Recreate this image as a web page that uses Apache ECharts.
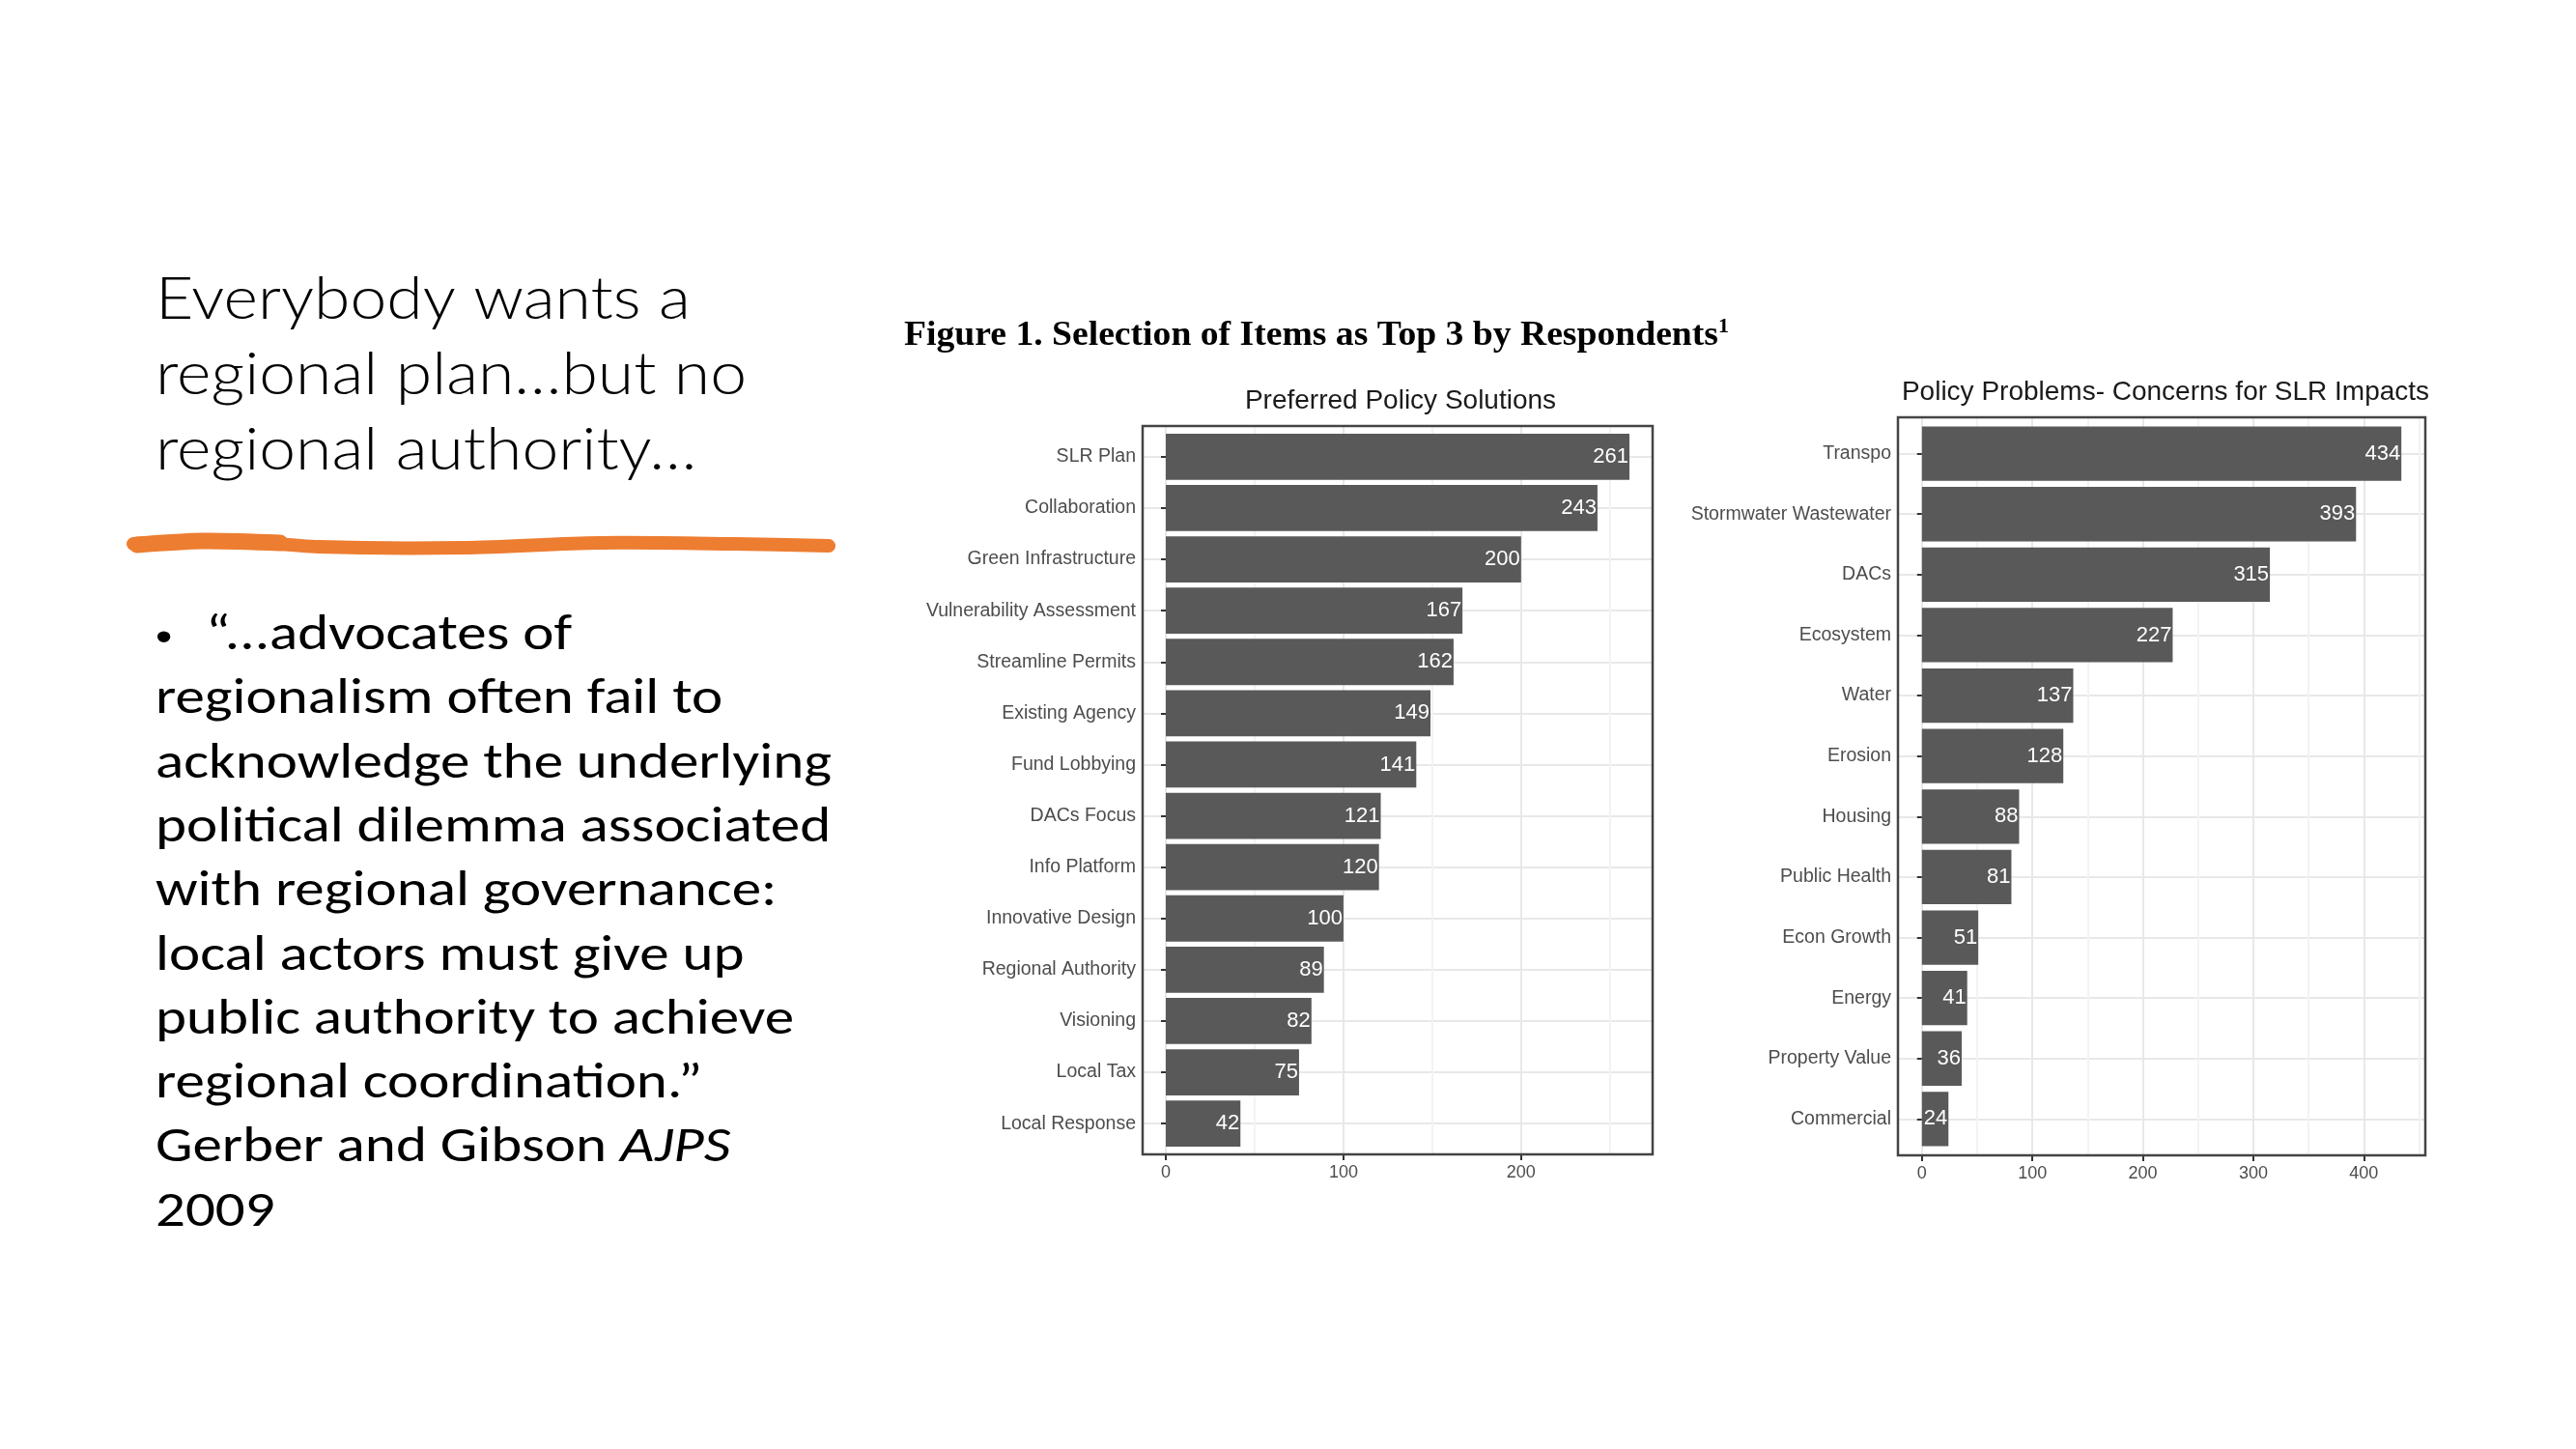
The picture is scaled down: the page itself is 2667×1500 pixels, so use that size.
<!DOCTYPE html>
<html>
<head>
<meta charset="utf-8">
<script src="https://cdn.jsdelivr.net/npm/echarts@6/dist/echarts.min.js"></script>
<style>html,body{margin:0;padding:0;background:#fff}#c{width:2667px;height:1500px}</style>
</head>
<body>
<div id="c"></div>
<script>
// ---- data ----
const solutionCats = ['SLR Plan','Collaboration','Green Infrastructure','Vulnerability Assessment','Streamline Permits','Existing Agency','Fund Lobbying','DACs Focus','Info Platform','Innovative Design','Regional Authority','Visioning','Local Tax','Local Response'];
const solutionVals = [261,243,200,167,162,149,141,121,120,100,89,82,75,42];
const problemCats = ['Transpo','Stormwater Wastewater','DACs','Ecosystem','Water','Erosion','Housing','Public Health','Econ Growth','Energy','Property Value','Commercial'];
const problemVals = [434,393,315,227,137,128,88,81,51,41,36,24];
const solutionTicks = [0,100,200];
const problemTicks = [0,100,200,300,400];
const solutionTitle = 'Preferred Policy Solutions';
const problemTitle = 'Policy Problems- Concerns for SLR Impacts';
const figureCaption = 'Figure 1. Selection of Items as Top 3 by Respondents';
const headingLines = ['Everybody wants a','regional plan…but no','regional authority…'];
const quoteLines = ['“...advocates of','regionalism often fail to','acknowledge the underlying','political dilemma associated','with regional governance:','local actors must give up','public authority to achieve','regional coordination.”'];
const citeText = 'Gerber and Gibson ';
const citeJournal = 'AJPS';
const citeYear = '2009';

// ---- styling ----
const FONT = '"Liberation Sans", Arial, sans-serif';
const HEAD_FONT = '"Calibri Light", Lato, sans-serif';
const SLIDE_FONT = 'Calibri, Carlito, Lato, sans-serif';
const SERIF = '"Liberation Serif", "Times New Roman", serif';
const MAJOR = '#e8e8e8';
const MINOR = '#f3f3f3';
const AXTXT = '#4d4d4d';

const grids = [], xAxes = [], yAxes = [], series = [];

function panel(gi, frame, cats, vals, ticks, splitN) {
  const n = cats.length;
  const band = frame.height / (n + 0.2);
  const inset = 0.1 * band;
  const vmax = Math.max.apply(null, vals);
  const xmin = -0.05 * vmax, xmax = 1.05 * vmax;
  const fg = gi * 2, dg = gi * 2 + 1;
  grids[fg] = {left: frame.left, top: frame.top, width: frame.width, height: frame.height,
    show: true, borderColor: '#444444', borderWidth: 2.5, backgroundColor: 'rgba(0,0,0,0)', z: 10,
    containLabel: false, outerBoundsMode: 'none'};
  grids[dg] = {left: frame.left, top: frame.top + inset, width: frame.width, height: frame.height - 2 * inset,
    containLabel: false, outerBoundsMode: 'none'};
  xAxes[fg] = {type: 'value', gridIndex: fg, min: xmin, max: xmax, splitNumber: splitN,
    axisLine: {show: false}, axisTick: {show: false}, axisLabel: {show: false},
    splitLine: {show: true, lineStyle: {color: [MINOR, MAJOR], width: 2}}, z: 0};
  yAxes[fg] = {type: 'value', gridIndex: fg, min: 0.4, max: n + 0.6, splitNumber: n,
    axisLine: {show: false}, axisTick: {show: false}, axisLabel: {show: false},
    splitLine: {show: true, lineStyle: {color: MAJOR, width: 2}}, z: 0};
  xAxes[dg] = {type: 'value', gridIndex: dg, min: xmin, max: xmax, offset: inset,
    axisLine: {show: false},
    axisTick: {show: true, length: 6, customValues: ticks, lineStyle: {color: '#333', width: 2}},
    axisLabel: {show: true, customValues: ticks, color: AXTXT, fontSize: 18, fontFamily: FONT, margin: 10},
    splitLine: {show: false}};
  yAxes[dg] = {type: 'category', gridIndex: dg, data: cats, inverse: true,
    axisLine: {show: false},
    axisTick: {show: true, alignWithLabel: true, length: 5, lineStyle: {color: '#333', width: 2}},
    axisLabel: {color: AXTXT, fontSize: 19.5, fontFamily: FONT, margin: 7},
    splitLine: {show: false}};
  series.push({type: 'bar', xAxisIndex: dg, yAxisIndex: dg, data: vals, barCategoryGap: '10%',
    itemStyle: {color: '#595959'},
    label: {show: true, position: 'insideRight', distance: 1, color: '#ffffff', fontSize: 22, fontFamily: FONT},
    z: 2});
}

panel(0, {left: 1183, top: 441, width: 528, height: 754}, solutionCats, solutionVals, solutionTicks, 6);
panel(1, {left: 1965, top: 432, width: 546, height: 764}, problemCats, problemVals, problemTicks, 9);

// ---- slide text (scaled to match the original text widths) ----
const mctx = document.createElement('canvas').getContext('2d');
function textWidth(t, font) { mctx.font = font; return mctx.measureText(t).width; }
const headSize = 62, bodySize = 52, capSize = 36;
const headScale = 612 / textWidth(headingLines[1], '300 ' + headSize + 'px ' + HEAD_FONT);
const bodyScale = 700 / textWidth(quoteLines[2], '400 ' + bodySize + 'px ' + SLIDE_FONT);
const capScale = 843 / textWidth(figureCaption, 'bold ' + capSize + 'px ' + SERIF);

const headChildren = headingLines.map((t, i) => ({
  type: 'text', x: 0, y: 310 + i * 78,
  style: {text: t, fontFamily: HEAD_FONT, fontWeight: 300, fontSize: headSize, fill: '#000',
          textAlign: 'left', textVerticalAlign: 'middle'}
}));

const bodyY = i => 659 + i * 66.3;
const bodyChildren = [];
bodyChildren.push({type: 'text', x: 0, y: bodyY(0) + 2,
  style: {text: '•', fontFamily: FONT, fontSize: 42, fill: '#000', textAlign: 'left', textVerticalAlign: 'middle'}});
quoteLines.forEach((t, i) => {
  bodyChildren.push({type: 'text', x: i === 0 ? 52 / bodyScale : 0, y: bodyY(i),
    style: {text: t, fontFamily: SLIDE_FONT, fontSize: bodySize, fill: '#000', textAlign: 'left', textVerticalAlign: 'middle'}});
});
bodyChildren.push({type: 'text', x: 0, y: bodyY(8),
  style: {text: '{n|' + citeText + '}{i|' + citeJournal + '}',
          rich: {n: {fontFamily: SLIDE_FONT, fontSize: bodySize, fill: '#000'},
                 i: {fontFamily: SLIDE_FONT, fontSize: bodySize, fontStyle: 'italic', fill: '#000'}},
          fontFamily: SLIDE_FONT, fontSize: bodySize, fill: '#000', textAlign: 'left', textVerticalAlign: 'middle'}});
bodyChildren.push({type: 'text', x: 0, y: bodyY(9),
  style: {text: citeYear, fontFamily: SLIDE_FONT, fontSize: bodySize, fill: '#000', textAlign: 'left', textVerticalAlign: 'middle'}});

const graphics = [
  {type: 'group', x: 161, y: 0, scaleX: headScale, children: headChildren},
  {type: 'group', x: 161, y: 0, scaleX: bodyScale, children: bodyChildren},
  {type: 'polyline', shape: {points: [[138,563],[230,559],[330,566],[480,567],[620,562],[760,563],[858,565]], smooth: 0.3},
   style: {stroke: '#ED7D31', lineWidth: 14, lineCap: 'round', fill: null}},
  {type: 'polyline', shape: {points: [[142,564],[210,560],[290,562]], smooth: 0.3},
   style: {stroke: '#ED7D31', lineWidth: 17, lineCap: 'round', fill: null}},
  {type: 'group', x: 936, y: 0, scaleX: capScale, children: [
    {type: 'text', x: 0, y: 348,
     style: {text: '{a|' + figureCaption + '}{s|1}',
             rich: {a: {fontFamily: SERIF, fontWeight: 'bold', fontSize: capSize, fill: '#000', lineHeight: 40},
                    s: {fontFamily: SERIF, fontWeight: 'bold', fontSize: 21, fill: '#000', verticalAlign: 'top', lineHeight: 26}},
             textAlign: 'left', textVerticalAlign: 'middle'}}
  ]},
  {type: 'text', x: 1450, y: 415,
   style: {text: solutionTitle, fontFamily: FONT, fontSize: 28, fill: '#1a1a1a', textAlign: 'center', textVerticalAlign: 'middle'}},
  {type: 'text', x: 2242, y: 406,
   style: {text: problemTitle, fontFamily: FONT, fontSize: 28, fill: '#1a1a1a', textAlign: 'center', textVerticalAlign: 'middle'}}
];

const chart = echarts.init(document.getElementById('c'), null, {renderer: 'canvas', width: 2667, height: 1500});
chart.setOption({
  animation: false,
  backgroundColor: '#ffffff',
  textStyle: {fontFamily: FONT},
  grid: grids,
  xAxis: xAxes,
  yAxis: yAxes,
  series: series,
  graphic: graphics
});
</script>
</body>
</html>
